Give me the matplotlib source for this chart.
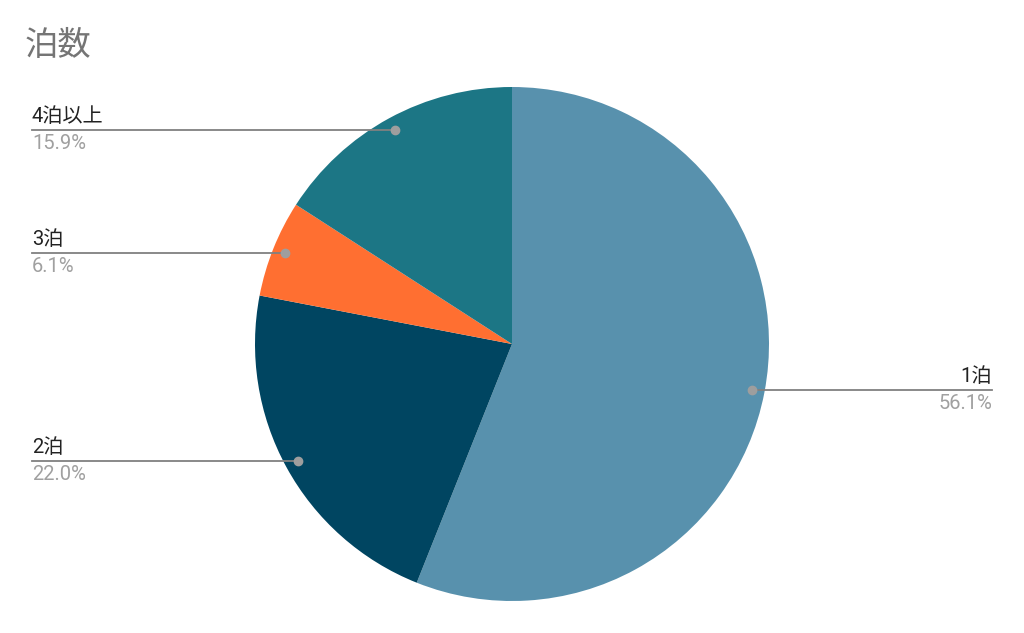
import numpy as np
import matplotlib
matplotlib.use("Agg")
import matplotlib.pyplot as plt

plt.rcParams['font.family'] = ['Roboto', 'Noto Sans CJK JP', 'DejaVu Sans']

# data
labels = ['1泊', '2泊', '3泊', '4泊以上']
values = [56.1, 22.0, 6.1, 15.9]
colors = ['#5891AD', '#004561', '#FF6F31', '#1C7685']
title = '泊数'

W, H = 1024, 633
fig = plt.figure(figsize=(W / 100, H / 100), dpi=100)
ax = fig.add_axes([0, 0, 1, 1])

cx, cy, R = 512, H - 344, 257
wedges, _ = ax.pie(values, colors=colors, startangle=90, counterclock=False,
                   center=(cx, cy), radius=R, frame=True,
                   wedgeprops=dict(linewidth=0))
ax.set_xlim(0, W)
ax.set_ylim(0, H)
ax.set_aspect('equal')
ax.axis('off')

for w, lab, v in zip(wedges, labels, values):
    mid = np.deg2rad((w.theta1 + w.theta2) / 2)
    px = cx + 0.95 * R * np.cos(mid)
    py = cy + 0.95 * R * np.sin(mid)
    if np.cos(mid) >= 0:
        tx, ha = 992, 'right'
    else:
        tx, ha = 32, 'left'
    ax.plot([px, tx], [py, py], color='#808080', lw=1.3, zorder=3)
    ax.plot(px, py, 'o', color='#9e9e9e', ms=6, zorder=4)
    ax.text(tx, py + 4, lab, ha=ha, va='bottom', fontsize=14.5, color='#222222')
    ax.text(tx, py - 4, f'{v:.1f}%', ha=ha, va='top', fontsize=14.5, color='#a0a0a0')

fig.text(25 / W, 1 - 46 / H, title, ha='left', va='center', fontsize=24, color='#757575')

fig.savefig('out.png', dpi=100)
